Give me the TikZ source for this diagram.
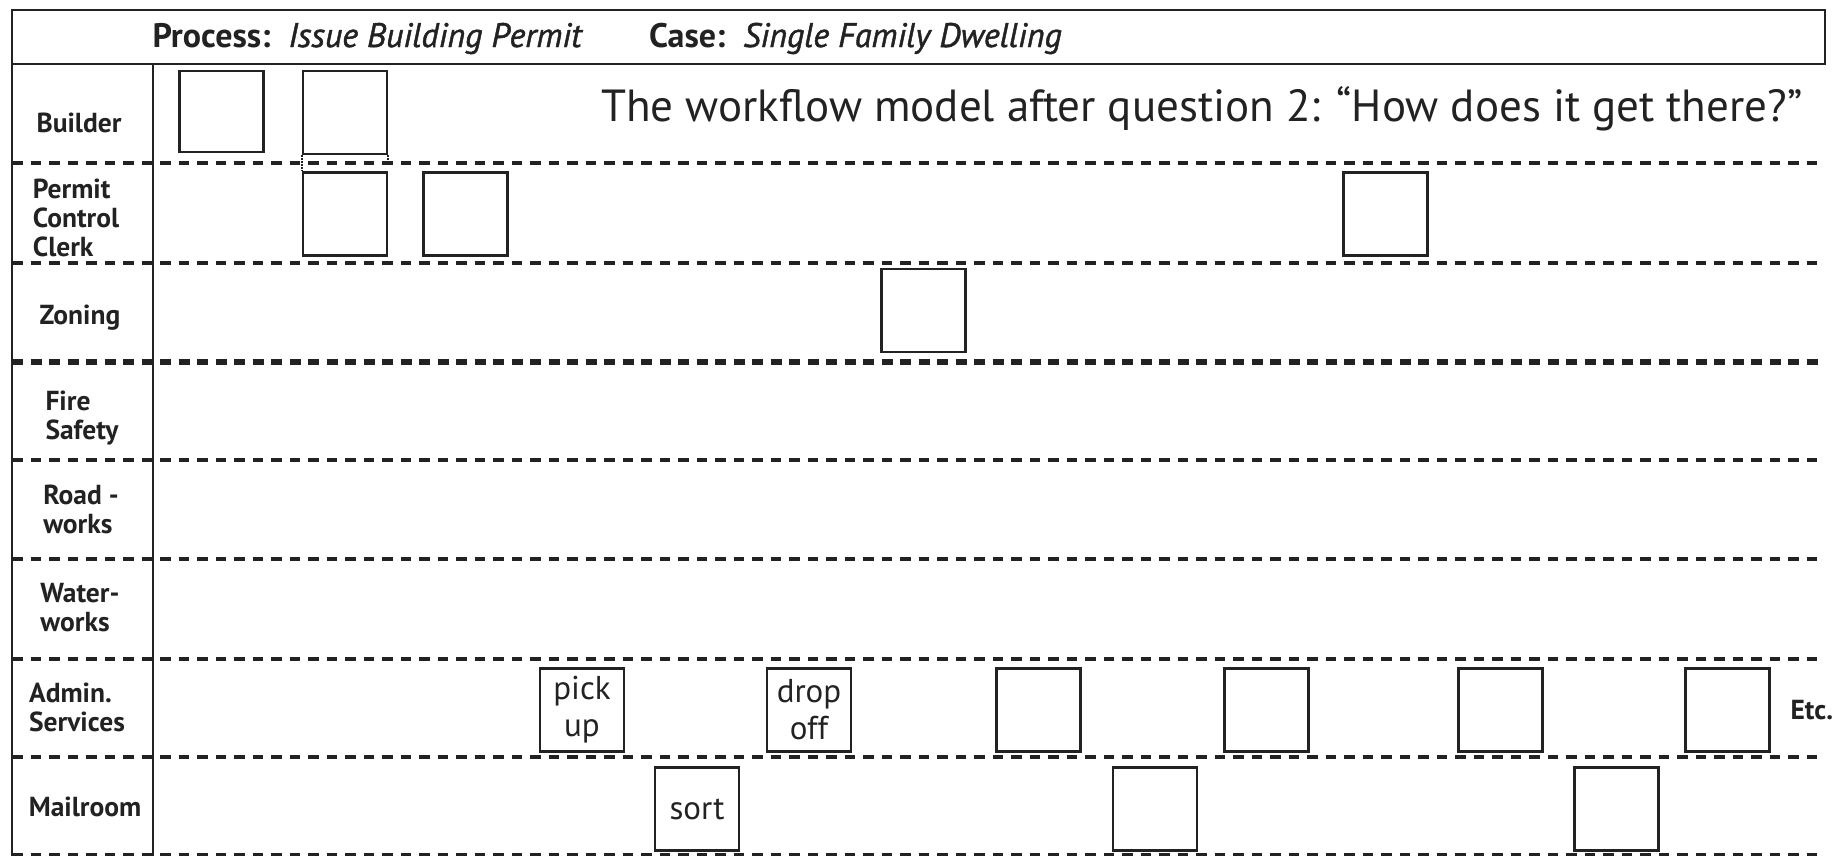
\documentclass[tikz,border=0pt]{standalone}
\usepackage{fontspec}
\setmainfont{PT Sans}
\newfontface\semiit[FakeBold=1.3]{PT Sans Italic}
\definecolor{ink}{HTML}{222222}
\begin{document}
\begin{tikzpicture}[x=1bp,y=-1bp,
  act/.style={draw=ink,line width=2.4bp,minimum width=84bp,minimum height=83bp,inner sep=0pt,
    font=\fontsize{33bp}{37bp}\selectfont,text=ink,align=center},
  lane/.style={font=\bfseries\fontsize{27.5bp}{29bp}\selectfont,text=ink,align=left},
  divider/.style={draw=ink,line width=3.5bp,dash pattern=on 10.5bp off 8bp},
  thickdivider/.style={draw=ink,line width=6bp,dash pattern=on 11bp off 7.5bp},
  frame/.style={draw=ink,line width=2.2bp}]
\useasboundingbox (0,0) rectangle (1848,856);
% header
\draw[frame] (12,10) rectangle (1825,64);
\draw[frame] (12,64) -- (12,856);
\draw[frame] (153,64) -- (153,856);
\node[anchor=base west,text=ink,font=\fontsize{34bp}{36bp}\selectfont] (hdr) at (149,47)
  {\textbf{Process:}\hspace{18bp}{\semiit Issue Building Permit}\hspace{66bp}\textbf{Case:}\hspace{18bp}{\semiit Single Family Dwelling}};
% title
\node[anchor=base east,text=ink,font=\fontsize{45bp}{48bp}\selectfont] (title) at (1806,121)
  {The workflow model after question 2: “How does it get there?”};
% lane dividers
\foreach \y in {163,263,460,559,659,757,855} \draw[divider] (12,\y) -- (1820,\y);
\draw[thickdivider] (12,362) -- (1820,362);
% lane labels
\node[lane] (lBuilder) at (79,123) {Builder};
\node[lane] (lPCC) at (76,218) {Permit\\Control\\Clerk};
\node[lane] (lZoning) at (80,318) {Zoning};
\node[lane] (lFire) at (82,418) {Fire\\Safety};
\node[lane] (lRoad) at (81,509) {Road -\\works};
\node[lane] (lWater) at (80,608) {Water-\\works};
\node[lane] (lAdmin) at (77,707) {Admin.\\Services};
\node[lane] (lMail) at (85,807) {Mailroom};
% activities
\node[act,minimum height=81bp] (B1) at (221.5,111.5) {};
\node[act] (B2) at (345,112.5) {};
\node[act] (P1) at (345,214) {};
\node[act] (P2) at (465.5,214) {};
\node[act] (P3) at (1385.5,214) {};
\node[act] (Z1) at (923.5,310.5) {};
\node[act] (A1) at (582,710) {pick\\up};
\node[act] (A2) at (809,710) {drop\\off};
\node[act] (A3) at (1038.5,710) {};
\node[act] (A4) at (1266.5,710) {};
\node[act] (A5) at (1500.5,710) {};
\node[act] (A6) at (1727.5,710) {};
\node[act] (M1) at (697,809) {sort};
\node[act] (M2) at (1155,809) {};
\node[act] (M3) at (1616.5,809) {};
\node[anchor=west,font=\bfseries\fontsize{27.5bp}{29bp}\selectfont,text=ink] (etc) at (1787,710) {Etc.};
% small dotted marks between builder and clerk boxes
\draw[ink,line width=2bp,densely dotted] (B2.south west) -- (P1.north west);
\coordinate (rmark) at (B2.south east |- 0,163);
\draw[ink,line width=2bp,densely dotted] (B2.south east) -- (rmark);
\end{tikzpicture}
\end{document}
